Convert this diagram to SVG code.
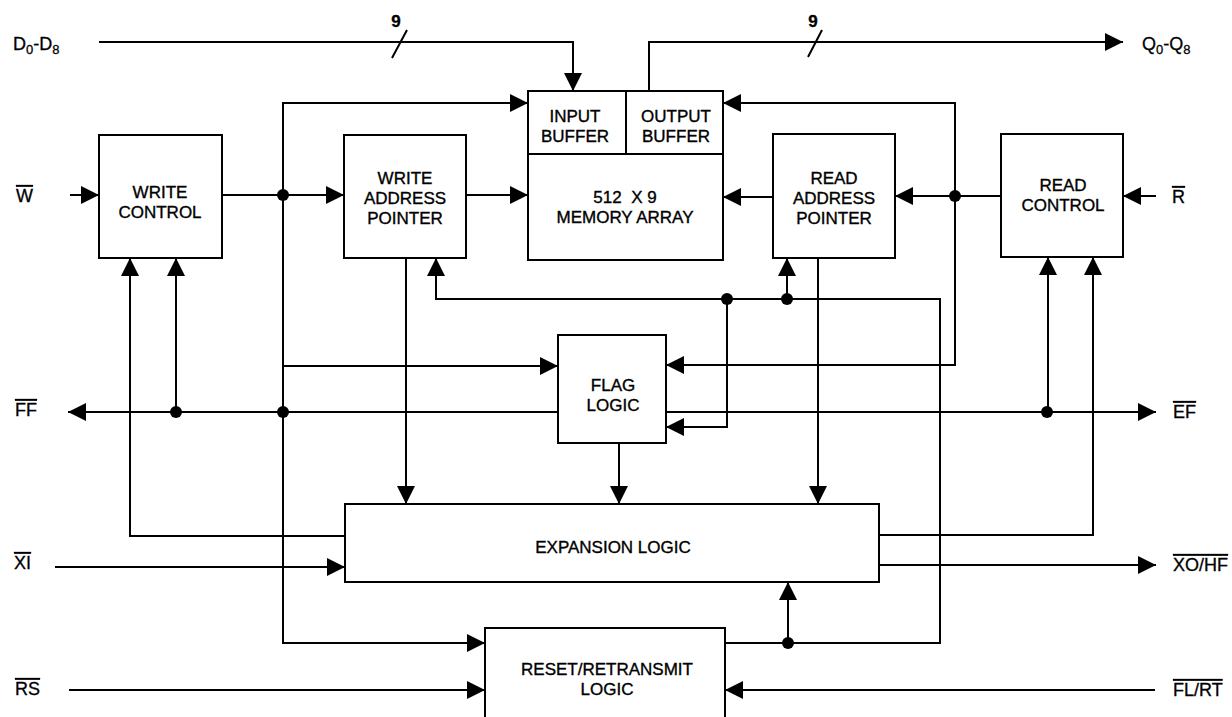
<svg xmlns="http://www.w3.org/2000/svg" width="1232" height="717" viewBox="0 0 1232 717">
<style>
.box{fill:#fff;stroke:#000;stroke-width:2}
.t{font-family:"Liberation Sans",Arial,sans-serif;font-size:17px;fill:#000;stroke:#000;stroke-width:0.35;text-anchor:middle}
.lbl{font-family:"Liberation Sans",Arial,sans-serif;font-size:18px;fill:#000;stroke:#000;stroke-width:0.3}
.ov{text-decoration:overline}
.w{fill:none;stroke:#000;stroke-width:2}
.a{marker-end:url(#ah)}
.dot{fill:#000}
.sub{font-size:13px}
</style>
<defs>
<marker id="ah" viewBox="0 0 18 18" refX="18" refY="9" markerWidth="18" markerHeight="18" markerUnits="userSpaceOnUse" orient="auto">
<path d="M0,0 L18,9 L0,18 z" fill="#000"/>
</marker>
</defs>
<g id="connectors">
<path class="w a" d="M99,42 H573 V91"/>
<path class="w a" d="M649,91 V42 H1123"/>
<line class="w" x1="392" y1="58" x2="407" y2="30"/>
<line class="w" x1="808" y1="57" x2="822" y2="30"/>
<path class="w a" d="M283,300 V103 H528"/>
<path class="w a" d="M283,103 V643 H485"/>
<path class="w a" d="M70,195 H99"/>
<path class="w a" d="M222,195 H344"/>
<path class="w a" d="M466,195 H528"/>
<path class="w a" d="M773,197 H723"/>
<path class="w a" d="M1001,196 H895"/>
<path class="w a" d="M1156,196 H1123"/>
<path class="w a" d="M955,196 V103 H723"/>
<path class="w a" d="M955,103 V365 H666"/>
<path class="w a" d="M283,366 H558"/>
<path class="w a" d="M558,412 H68"/>
<path class="w a" d="M666,412 H1156"/>
<path class="w a" d="M345,536 H130 V258"/>
<path class="w a" d="M176,412 V258"/>
<path class="w a" d="M1048,412 V257"/>
<path class="w a" d="M879,535 H1093 V257"/>
<path class="w a" d="M55,567 H345"/>
<path class="w a" d="M879,565 H1156"/>
<path class="w a" d="M69,690 H485"/>
<path class="w a" d="M1155,690 H725"/>
<path class="w a" d="M725,643 H940 V299 H436 V258"/>
<path class="w a" d="M788,643 V582"/>
<path class="w a" d="M787,299 V258"/>
<path class="w a" d="M727,299 V427 H666"/>
<path class="w a" d="M406,258 V504"/>
<path class="w a" d="M818,258 V504"/>
<path class="w a" d="M619,443 V504"/>
<circle class="dot" cx="283" cy="195" r="6"/>
<circle class="dot" cx="955" cy="196" r="6"/>
<circle class="dot" cx="176" cy="412" r="6"/>
<circle class="dot" cx="283" cy="412" r="6"/>
<circle class="dot" cx="1047" cy="412" r="6"/>
<circle class="dot" cx="727" cy="299" r="6"/>
<circle class="dot" cx="787" cy="299" r="6"/>
<circle class="dot" cx="788" cy="643" r="6"/>
<text class="t" x="396" y="27" font-weight="bold" font-size="17">9</text>
<text class="t" x="813" y="27" font-weight="bold" font-size="17">9</text>
</g>
<g id="write-control">
<rect class="box" x="99" y="135" width="123" height="123"/>
<text class="t" x="160" y="198">WRITE</text>
<text class="t" x="160" y="218">CONTROL</text>
</g>
<g id="write-address-pointer">
<rect class="box" x="344" y="135" width="122" height="123"/>
<text class="t" x="405" y="184">WRITE</text>
<text class="t" x="405" y="204">ADDRESS</text>
<text class="t" x="405" y="224">POINTER</text>
</g>
<g id="memory-array">
<rect class="box" x="528" y="91" width="195" height="169"/>
<line class="w" x1="528" y1="154" x2="723" y2="154"/>
<line class="w" x1="626" y1="91" x2="626" y2="154"/>
<text class="t" x="575" y="122">INPUT</text>
<text class="t" x="575" y="142">BUFFER</text>
<text class="t" x="676" y="122">OUTPUT</text>
<text class="t" x="676" y="142">BUFFER</text>
<text class="t" x="625" y="203" xml:space="preserve">512  X 9</text>
<text class="t" x="625" y="223">MEMORY ARRAY</text>
</g>
<g id="read-address-pointer">
<rect class="box" x="773" y="134" width="122" height="124"/>
<text class="t" x="834" y="184">READ</text>
<text class="t" x="834" y="204">ADDRESS</text>
<text class="t" x="834" y="224">POINTER</text>
</g>
<g id="read-control">
<rect class="box" x="1001" y="134" width="122" height="123"/>
<text class="t" x="1063" y="191">READ</text>
<text class="t" x="1063" y="211">CONTROL</text>
</g>
<g id="flag-logic">
<rect class="box" x="558" y="335" width="108" height="108"/>
<text class="t" x="613" y="391">FLAG</text>
<text class="t" x="613" y="411">LOGIC</text>
</g>
<g id="expansion-logic">
<rect class="box" x="345" y="504" width="534" height="78"/>
<text class="t" x="613" y="553">EXPANSION LOGIC</text>
</g>
<g id="reset-retransmit-logic">
<rect class="box" x="485" y="628" width="240" height="100"/>
<text class="t" x="607" y="675">RESET/RETRANSMIT</text>
<text class="t" x="607" y="695">LOGIC</text>
</g>
<g id="labels">
<text class="lbl" x="13" y="50">D<tspan class="sub" dy="4">0</tspan><tspan dy="-4">-D</tspan><tspan class="sub" dy="4">8</tspan></text>
<text class="lbl" x="1142" y="50">Q<tspan class="sub" dy="4">0</tspan><tspan dy="-4">-Q</tspan><tspan class="sub" dy="4">8</tspan></text>
<text class="lbl ov" x="16" y="202">W</text>
<text class="lbl ov" x="1172" y="203">R</text>
<text class="lbl ov" x="15" y="416">FF</text>
<text class="lbl ov" x="1173" y="418">EF</text>
<text class="lbl ov" x="14" y="569">XI</text>
<text class="lbl ov" x="1173" y="571">XO/HF</text>
<text class="lbl ov" x="15" y="695">RS</text>
<text class="lbl ov" x="1173" y="696">FL/RT</text>
</g>
</svg>
